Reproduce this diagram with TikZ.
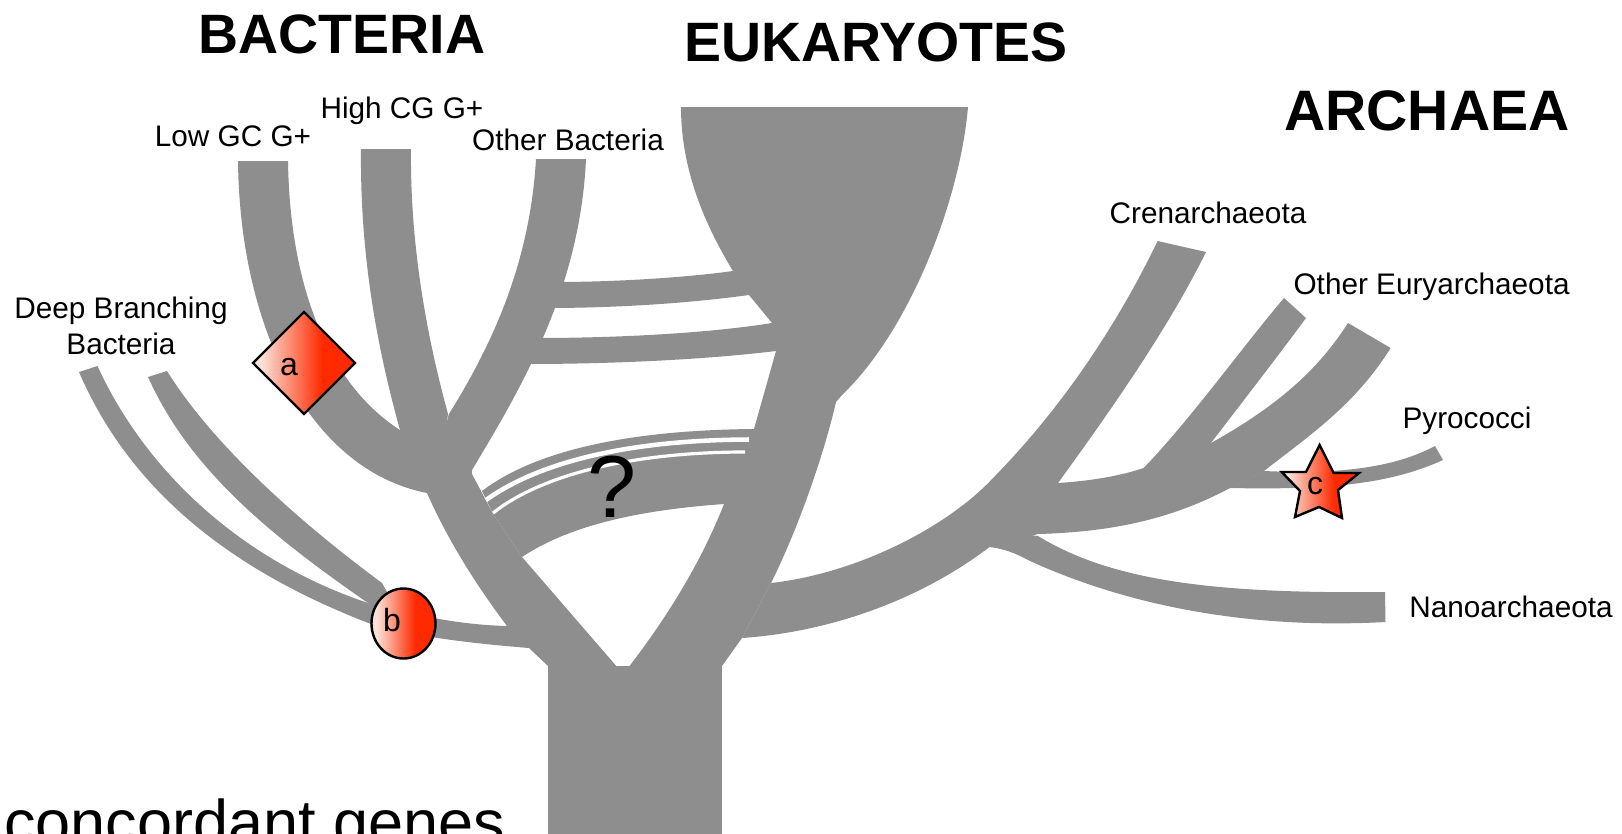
\documentclass[tikz,border=0pt]{standalone}
\usepackage{fontspec}
\setmainfont{Liberation Sans}
\definecolor{treegrey}{HTML}{8E8E8E}
\definecolor{markred}{HTML}{FF2A00}
\definecolor{markpale}{HTML}{FBE2D8}
\pgfdeclarehorizontalshading{markgrad}{100bp}{color(0bp)=(markpale); color(29bp)=(markpale); color(59bp)=(markred); color(100bp)=(markred)}
\tikzset{
  treefill/.style={fill=treegrey,draw=none},
  slit/.style={draw=white,fill=none},
  markshape/.style={shading=markgrad,draw=black,line width=1.8pt,line join=miter},
  heading/.style={anchor=base,inner sep=0pt,font=\fontsize{41.6}{48}\selectfont\bfseries},
  taxon/.style={anchor=base,inner sep=0pt,align=center,font=\fontsize{22.3}{27}\selectfont},
  marklabel/.style={anchor=base,inner sep=0pt,font=\fontsize{24}{27}\selectfont},
}
\begin{document}
\begin{tikzpicture}[x=0.75pt,y=-0.75pt]
\path[use as bounding box] (0,0) rectangle (1622,833);
\clip (0,0) rectangle (1622,833);
\fill[white] (0,0) rectangle (1622,833);
% trunk
\path[treefill] (548,666) -- (722,666) -- (722,840) -- (548,840) -- cycle;
% left stem below bacteria
\path[treefill] (427,493) .. controls (450,545) and (480,590) .. (507,626) -- (529,648) -- (548,666) -- (600,690) -- (618,668) -- (522,557) -- (493,514) -- (471,472) -- (449,414) -- cycle;
% Low GC
\path[treefill] (238,161) .. controls (240,330) and (310,470) .. (427,493) -- (460,490) -- (440,440) -- (400,430) .. controls (330,385) and (290,290) .. (288,161) -- cycle;
% High CG
\path[treefill] (361,149) .. controls (360,250) and (375,340) .. (400,430) -- (440,480) -- (448,414) .. controls (425,330) and (410,240) .. (411,149) -- cycle;
% Other Bacteria
\path[treefill] (536,159) .. controls (530,260) and (495,340) .. (449,414) -- (440,480) -- (471,480) -- (472,470) .. controls (520,390) and (580,290) .. (586,159) -- cycle;
% cross bands
\path[treefill] (555,282) .. controls (620,282) and (690,277) .. (733,271) -- (760,271) -- (749,295) .. controls (690,303) and (620,308) .. (545,308) -- cycle;
\path[treefill] (535,338) .. controls (620,338) and (710,333) .. (772,323) -- (790,340) -- (776,351) .. controls (710,359) and (620,364) .. (525,364) -- cycle;
% ? band
\path[treefill] (482,491) .. controls (540,447) and (640,430) .. (754,429) -- (770,500) -- (724,504) .. controls (640,510) and (570,525) .. (522,557) -- (493,514) -- cycle;
% eukaryote funnel and stem
\path[treefill] (681,107) .. controls (681,170) and (705,225) .. (733,271) -- (749,295) -- (772,323) -- (776,351) -- (754,429) -- (724,504) .. controls (700,565) and (665,620) .. (628,668) -- (624,669) -- (618,668) -- (640,700) -- (722,666) -- (742,638) -- (771,583) .. controls (800,525) and (825,450) .. (836,402) -- (842,395) .. controls (910,330) and (960,200) .. (968,107) -- cycle;
% Crenarchaeota and main archaeal band
\path[treefill] (1157.6,241) .. controls (1110,340) and (1050,420) .. (994,477) .. controls (950,525) and (860,573) .. (771,583) -- (742,638) .. controls (830,632) and (920,600) .. (989.5,547) -- (1058,483) .. controls (1100,425) and (1165,335) .. (1206,252) -- cycle;
\path[treefill] (1000,500) -- (1058,483) .. controls (1090,481) and (1120,476) .. (1143.6,468) -- (1211,443) -- (1264,471) -- (1230,488) .. controls (1170,520) and (1110,532) .. (1038,534) -- (1000,545) -- cycle;
% Euryarchaeota
\path[treefill] (1143.6,468) .. controls (1190,420) and (1240,350) .. (1284,298) -- (1306,318) .. controls (1275,360) and (1240,405) .. (1211,443) -- (1180,475) -- cycle;
\path[treefill] (1211,443) .. controls (1270,410) and (1315,375) .. (1348,323) -- (1390.6,348) .. controls (1355,405) and (1310,435) .. (1264,471) -- (1230,488) -- (1180,480) -- cycle;
% Pyrococci
\path[treefill] (1264,471) .. controls (1330,474) and (1390,470) .. (1435,446) -- (1443,460) .. controls (1390,484) and (1330,490) .. (1230,488) -- cycle;
% Nanoarchaeota
\path[treefill] (1038,536) .. controls (1110,580) and (1210,594) .. (1385,592) -- (1385.5,622) .. controls (1240,630) and (1120,602) .. (1030,561) .. controls (1015,553) and (1005,549) .. (989.5,547) -- (990,530) -- cycle;
% deep branching bands
\path[treefill] (507,626) .. controls (465,625) and (420,617) .. (368,603) -- (371,624) .. controls (420,638) and (480,644) .. (529,648) -- (545,640) -- cycle;
\path[treefill] (79,372) .. controls (130,490) and (230,570) .. (371,624) -- (390,620) -- (368,603) .. controls (240,560) and (145,470) .. (97.5,366) -- cycle;
\path[treefill] (148,377) .. controls (190,470) and (270,535) .. (368,603) -- (400,615) -- (382,583) .. controls (290,515) and (210,440) .. (167,371) -- cycle;
% white slits
\draw[slit,line width=3.4pt] (486,500) .. controls (545,458) and (640,440) .. (749,439.5);
\draw[slit,line width=2.4pt] (493,513) .. controls (545,472) and (640,452) .. (745,452);
% markers
\path[markshape] (253,363) -- (304,312) -- (355,363) -- (304,414) -- cycle;
\path[markshape] (403.5,623.5) ellipse [x radius=32,y radius=35];
\path[markshape] (1319.6,445) -- (1333.6,473) -- (1359,473) -- (1338,490) -- (1342,518) -- (1319,507) -- (1295,517) -- (1300,491) -- (1281.7,472) -- (1306,472) -- cycle;
\node[marklabel] (labela) at (289,375) {a};
\node[marklabel] (labelb) at (392,631) {b};
\node[marklabel] (labelc) at (1315,494) {c};
% texts
\node[anchor=base,inner sep=0pt,font=\fontsize{66}{72}\selectfont] (question) at (612,517) {?};
\node[heading] (bacteria) at (342,53) {BACTERIA};
\node[heading] (eukaryotes) at (876,61) {EUKARYOTES};
\node[heading,font=\fontsize{42.8}{48}\selectfont\bfseries] (archaea) at (1427,130) {ARCHAEA};
\node[taxon] (lowgc) at (233,146) {Low GC G+};
\node[taxon] (highcg) at (402,118) {High CG G+};
\node[taxon] (otherbact) at (568,150) {Other Bacteria};
\node[taxon] (deep1) at (121,318) {Deep Branching};
\node[taxon] (deep2) at (121,354) {Bacteria};
\node[taxon] (crena) at (1208,223) {Crenarchaeota};
\node[taxon] (otherey) at (1431.6,294) {Other Euryarchaeota};
\node[taxon] (pyro) at (1467,428) {Pyrococci};
\node[taxon] (nano) at (1511,617) {Nanoarchaeota};
\node[anchor=base west,inner sep=0pt,font=\fontsize{47.3}{52}\selectfont] (concordant) at (4,844) {concordant genes};
\end{tikzpicture}
\end{document}
